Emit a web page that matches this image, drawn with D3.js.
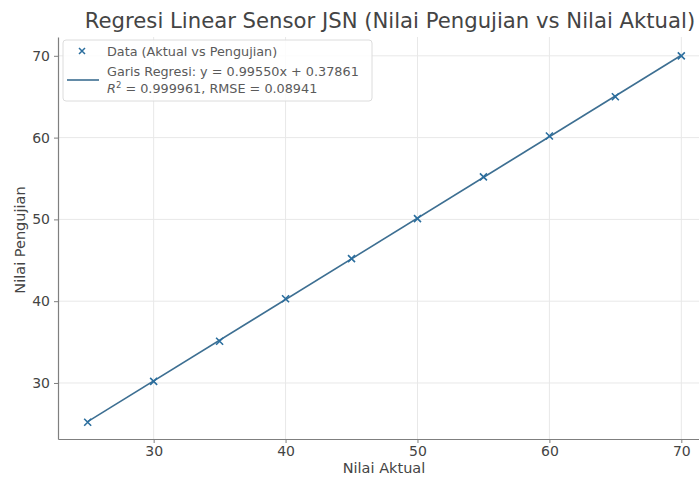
<!DOCTYPE html>
<html>
<head>
<meta charset="utf-8">
<script src="https://cdn.jsdelivr.net/npm/d3@7"></script>
<style>
  body { margin: 0; background: #fff; }
  svg { font-family: "DejaVu Sans", sans-serif; }
</style>
</head>
<body>
<svg id="chart"></svg>
<script>
const aktual = [25, 30, 35, 40, 45, 50, 55, 60, 65, 70];
const pengujian = [25.2, 30.2, 35.1, 40.3, 45.2, 50.1, 55.2, 60.2, 65.0, 70.0];
const xTicks = [30, 40, 50, 60, 70];
const yTicks = [30, 40, 50, 60, 70];
const slope = 0.99550;
const intercept = 0.37861;

const width = 699;
const height = 478;

const svg = d3.select("#chart")
  .attr("width", width)
  .attr("height", height);

const x = d3.scaleLinear().domain([22.75, 72.25]).range([58, 711]);
const y = d3.scaleLinear().domain([23.15, 72.3]).range([439, 37]);

const gridColor = "#e8e8e8";
const spineColor = "#7f7f7f";
const textColor = "#444";

// grid
svg.append("g").selectAll("line").data(xTicks).join("line")
  .attr("x1", d => x(d)).attr("x2", d => x(d))
  .attr("y1", y.range()[0]).attr("y2", y.range()[1])
  .attr("stroke", gridColor).attr("stroke-width", 1);
svg.append("g").selectAll("line").data(yTicks).join("line")
  .attr("x1", x.range()[0]).attr("x2", width)
  .attr("y1", d => y(d)).attr("y2", d => y(d))
  .attr("stroke", gridColor).attr("stroke-width", 1);

// axes
const xAxis = svg.append("g")
  .attr("transform", `translate(0, 439)`)
  .call(d3.axisBottom(x).tickValues(xTicks).tickSize(4).tickPadding(3).tickSizeOuter(0));
const yAxis = svg.append("g")
  .attr("transform", `translate(58, 0)`)
  .call(d3.axisLeft(y).tickValues(yTicks).tickSize(4).tickPadding(4).tickSizeOuter(0));

[xAxis, yAxis].forEach(g => {
  g.select(".domain").attr("stroke", spineColor).attr("stroke-width", 1.2);
  g.selectAll(".tick line").attr("stroke", spineColor);
  g.selectAll(".tick text").attr("fill", textColor).style("font-size", "14px")
    .style("font-family", "DejaVu Sans");
});

// regression line
const x0 = d3.min(aktual), x1 = d3.max(aktual);
svg.append("line")
  .attr("x1", x(x0)).attr("y1", y(slope * x0 + intercept))
  .attr("x2", x(x1)).attr("y2", y(slope * x1 + intercept))
  .attr("stroke", "#3d6f92").attr("stroke-width", 1.6);

// markers
const data = aktual.map((a, i) => ({a, p: pengujian[i]}));
const s = 3.5;
svg.append("g").selectAll("path").data(data).join("path")
  .attr("d", d => {
    const cx = x(d.a), cy = y(d.p);
    return `M${cx - s},${cy - s}L${cx + s},${cy + s}M${cx - s},${cy + s}L${cx + s},${cy - s}`;
  })
  .attr("stroke", "#2b6e9e").attr("stroke-width", 1.6).attr("fill", "none");

// title & labels
svg.append("text")
  .attr("x", 390).attr("y", 28)
  .attr("text-anchor", "middle")
  .attr("fill", textColor)
  .style("font-size", "21.2px")
  .text("Regresi Linear Sensor JSN (Nilai Pengujian vs Nilai Aktual)");

svg.append("text")
  .attr("x", 384).attr("y", 473)
  .attr("text-anchor", "middle")
  .attr("fill", textColor)
  .style("font-size", "14.5px")
  .text("Nilai Aktual");

svg.append("text")
  .attr("transform", "translate(25, 240) rotate(-90)")
  .attr("text-anchor", "middle")
  .attr("fill", textColor)
  .style("font-size", "14.5px")
  .text("Nilai Pengujian");

// legend
const legend = svg.append("g");
legend.append("rect")
  .attr("x", 63).attr("y", 40).attr("width", 309).attr("height", 61)
  .attr("rx", 3)
  .attr("fill", "#fff").attr("fill-opacity", 0.85)
  .attr("stroke", "#dcdcdc");
legend.append("path")
  .attr("d", `M${82 - 3},${51 - 3}L${82 + 3},${51 + 3}M${82 - 3},${51 + 3}L${82 + 3},${51 - 3}`)
  .attr("stroke", "#2b6e9e").attr("stroke-width", 1.5);
legend.append("line")
  .attr("x1", 67).attr("x2", 99).attr("y1", 80).attr("y2", 80)
  .attr("stroke", "#3d6f92").attr("stroke-width", 1.6);
const legendTexts = [
  {t: "Data (Aktual vs Pengujian)", y: 56},
  {t: "Garis Regresi: y = 0.99550x + 0.37861", y: 75.5},
];
legend.selectAll("text.lt").data(legendTexts).join("text")
  .attr("class", "lt")
  .attr("x", 107).attr("y", d => d.y)
  .attr("fill", "#5a5a5a")
  .style("font-size", "12.8px")
  .text(d => d.t);
const r2 = legend.append("text")
  .attr("x", 107).attr("y", 92.5)
  .attr("fill", "#5a5a5a")
  .style("font-size", "12.8px");
r2.append("tspan").style("font-style", "italic").text("R");
r2.append("tspan").attr("dy", -5).style("font-size", "8.5px").text("2");
r2.append("tspan").attr("dy", 5).text(" = 0.999961, RMSE = 0.08941");
</script>
</body>
</html>
